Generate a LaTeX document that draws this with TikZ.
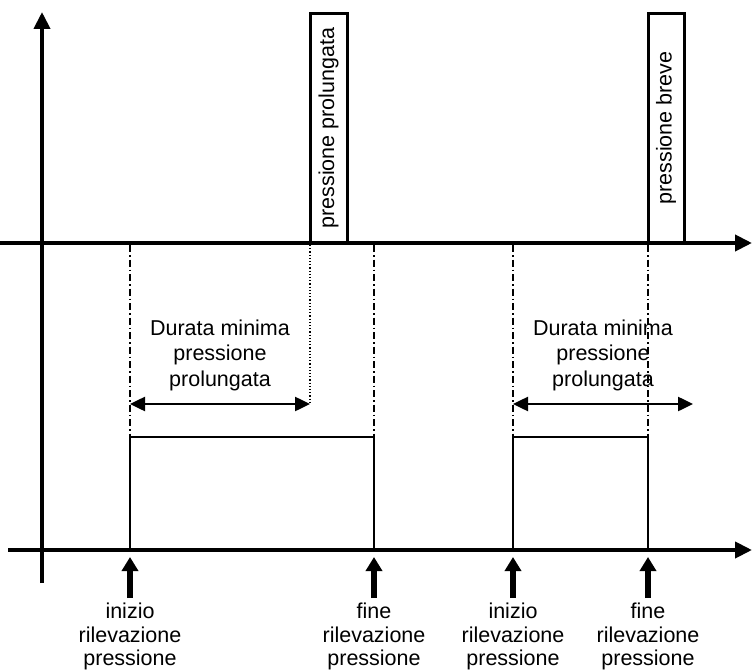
\documentclass[tikz,border=0pt]{standalone}
\usepackage{fontspec}
\setmainfont{Liberation Sans}
\usetikzlibrary{arrows.meta}
\begin{document}
\begin{tikzpicture}[x=1pt,y=-1pt,
    every node/.style={font=\fontsize{21.5}{25.5}\selectfont, align=center, inner sep=0pt},
    axis/.style={line width=4pt, -{Triangle[length=17pt,width=16pt]}},
    pulse/.style={line width=3pt},
    mark line/.style={line width=1.5pt, dash pattern=on 7pt off 3pt on 1.5pt off 3pt},
    span/.style={line width=2.5pt, {Triangle[length=15pt,width=14pt]}-{Triangle[length=15pt,width=14pt]}},
    upper/.style={line width=6pt, -{Triangle[length=14pt,width=16pt]}},
    tag/.style={anchor=north, font=\fontsize{21.5}{23.5}\selectfont}]
    \useasboundingbox (0,0) rectangle (752,671);
    % assi
    \draw[axis] (42,583) -- (42,12);
    \draw[axis] (0,243) -- (752,243);
    \draw[axis] (8,550) -- (752,550);
    % impulsi in alto
    \draw[pulse] (310,243) -- (310,14) -- (347,14) -- (347,243);
    \node[rotate=90] (prol) at (328.5,128) {pressione prolungata};
    \draw[pulse] (648,243) -- (648,14) -- (684,14) -- (684,243);
    \node[rotate=90] (breve) at (666,128) {pressione breve};
    % istanti
    \foreach \x in {130,374,513,648}
        \draw[mark line] (\x,245) -- (\x,437);
    \draw[line width=1.2pt, dotted] (310,245) -- (310,404);
    % durata minima
    \node (dur1) at (220,355) {Durata minima\\pressione\\prolungata};
    \node (dur2) at (603,355) {Durata minima\\pressione\\prolungata};
    \coordinate (s1) at (130,404);
    \coordinate (e1) at (310,404);
    \coordinate (s2) at (513,404);
    \coordinate (e2) at (693,404);
    \draw[span] (s1) -- (e1);
    \draw[span] (s2) -- (e2);
    % rilevazione
    \draw[line width=1.5pt] (130,550) -- (130,437) -- (374,437) -- (374,550);
    \draw[line width=1.5pt] (513,550) -- (513,437) -- (648,437) -- (648,550);
    \node[tag] (ini1) at (130,603) {inizio\\rilevazione\\pressione};
    \node[tag] (fin1) at (374,603) {fine\\rilevazione\\pressione};
    \node[tag] (ini2) at (513,603) {inizio\\rilevazione\\pressione};
    \node[tag] (fin2) at (648,603) {fine\\rilevazione\\pressione};
    \foreach \n in {ini1,fin1,ini2,fin2}
        \draw[upper] (\n.north) ++(0,-5) -- ++(0,-41);
\end{tikzpicture}
\end{document}
